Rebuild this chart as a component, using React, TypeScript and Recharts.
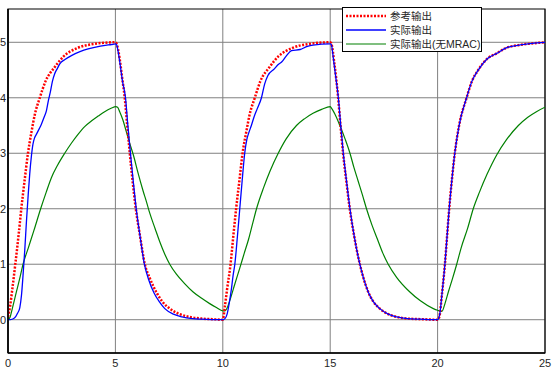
import { LineChart, Line, XAxis, YAxis, CartesianGrid, ReferenceArea } from 'recharts';

// time (s) and values
const refT = [0, 0.1, 0.2, 0.34, 0.5, 0.62, 0.77, 0.93, 1.1, 1.25, 1.48, 1.75, 2.17, 2.6, 3.25, 4, 5,
  5.05, 5.2, 5.3, 5.435, 5.55, 5.67, 5.8, 5.95, 6.15, 6.37, 6.6, 6.9, 7.2, 7.53, 8, 8.46, 9, 9.5, 10,
  10.1, 10.2, 10.36, 10.5, 10.62, 10.77, 10.92, 11.1, 11.25, 11.49, 11.75, 12.17, 12.6, 13.25, 14, 15,
  15.05, 15.2, 15.37, 15.48, 15.6, 15.75, 15.91, 16.12, 16.38, 16.55, 16.77, 17, 17.31, 17.7, 18.09, 18.6, 19.2, 20,
  20.08, 20.2, 20.34, 20.44, 20.54, 20.66, 20.8, 21, 21.35, 21.6, 21.89, 22.3, 22.75, 23.2, 23.8, 24.4, 25];
const refY = [0.05, 0.25, 0.55, 1.0, 1.55, 2.0, 2.5, 3.0, 3.4, 3.7, 4.0, 4.3, 4.55, 4.75, 4.9, 4.97, 5.0,
  4.98, 4.7, 4.4, 4.0, 3.5, 3.0, 2.5, 2.0, 1.5, 1.0, 0.75, 0.5, 0.32, 0.2, 0.1, 0.05, 0.02, 0.01, 0.0,
  0.25, 0.55, 1.0, 1.55, 2.0, 2.5, 3.0, 3.4, 3.7, 4.0, 4.3, 4.55, 4.75, 4.9, 4.97, 5.0,
  4.98, 4.6, 4.0, 3.5, 3.0, 2.5, 2.0, 1.5, 1.0, 0.75, 0.5, 0.33, 0.2, 0.1, 0.05, 0.02, 0.01, 0.0,
  0.05, 0.45, 1.0, 1.5, 2.0, 2.5, 3.0, 3.5, 4.0, 4.3, 4.5, 4.7, 4.8, 4.9, 4.95, 4.98, 5.0];

const actT = [0, 0.1, 0.3, 0.45, 0.55, 0.63, 0.7, 0.78, 0.86, 0.94, 1.01, 1.09, 1.16, 1.24, 1.32, 1.45, 1.55, 1.68, 1.79, 1.88, 1.97, 2.07, 2.17, 2.3, 2.41, 2.65, 2.95, 3.35, 3.73, 4.3, 4.82, 5,
  5.05, 5.12, 5.22, 5.33, 5.47, 5.58, 5.7, 5.83, 5.97, 6.15, 6.35, 6.55, 6.8, 7.05, 7.3, 7.7, 8.1, 8.6, 9, 10,
  10.1, 10.2, 10.3, 10.4, 10.48, 10.56, 10.68, 10.79, 10.9, 11.02, 11.12, 11.22, 11.33, 11.45, 11.6, 11.8, 11.95, 12.1, 12.4, 12.58, 12.75, 12.95, 13.2, 13.6, 13.9, 14.2, 15,
  15.05, 15.15, 15.25, 15.38, 15.49, 15.61, 15.76, 15.92, 16.12, 16.38, 16.55, 16.77, 17, 17.31, 17.7, 18.1, 18.6, 19.2, 20,
  20.1, 20.2, 20.34, 20.44, 20.54, 20.66, 20.8, 21, 21.35, 21.6, 21.89, 22.3, 22.75, 23.2, 23.8, 24.4, 25];
const actY = [0, 0, 0.03, 0.12, 0.22, 0.45, 0.8, 1.25, 1.78, 2.25, 2.62, 2.95, 3.16, 3.28, 3.34, 3.44, 3.52, 3.65, 3.77, 3.95, 4.1, 4.3, 4.43, 4.53, 4.61, 4.69, 4.76, 4.83, 4.88, 4.93, 4.96, 4.97,
  4.96, 4.85, 4.6, 4.3, 4.0, 3.5, 3.0, 2.5, 2.0, 1.5, 1.0, 0.72, 0.48, 0.32, 0.2, 0.1, 0.05, 0.02, 0.01, 0.0,
  0.02, 0.1, 0.3, 0.55, 0.8, 1.0, 1.5, 2.0, 2.5, 3.0, 3.25, 3.38, 3.5, 3.65, 3.8, 4.0, 4.25, 4.4, 4.52, 4.6, 4.65, 4.75, 4.85, 4.87, 4.92, 4.95, 4.97,
  4.96, 4.7, 4.4, 4.0, 3.5, 3.0, 2.5, 2.0, 1.5, 1.0, 0.75, 0.5, 0.33, 0.2, 0.1, 0.05, 0.02, 0.01, 0.0,
  0.1, 0.45, 1.0, 1.5, 2.0, 2.5, 3.0, 3.5, 4.0, 4.3, 4.5, 4.7, 4.8, 4.9, 4.95, 4.98, 5.0];

const noMracT = [0, 0.1, 0.2, 0.39, 0.55, 0.7, 0.95, 1.2, 1.52, 1.78, 2.02, 2.3, 2.64, 2.95, 3.26, 3.57, 3.88, 4.2, 4.5, 4.8, 5.02,
  5.1, 5.2, 5.35, 5.5, 5.65, 5.85, 6.05, 6.29, 6.45, 6.6, 6.85, 7.07, 7.3, 7.53, 7.84, 8.2, 8.62, 9, 9.39, 9.7, 10,
  10.1, 10.2, 10.37, 10.55, 10.79, 11, 11.2, 11.4, 11.57, 11.9, 12.2, 12.58, 12.95, 13.43, 13.8, 14.2, 14.6, 15,
  15.05, 15.2, 15.45, 15.7, 15.92, 16.1, 16.3, 16.5, 16.69, 16.95, 17.2, 17.45, 17.7, 18.1, 18.71, 19.2, 19.8, 20,
  20.2, 20.35, 20.5, 20.7, 20.89, 21.1, 21.4, 21.66, 21.95, 22.3, 22.75, 23.2, 23.76, 24.2, 24.6, 25];
const noMracY = [0, 0.05, 0.2, 0.5, 0.75, 1.0, 1.3, 1.6, 2.0, 2.3, 2.56, 2.78, 3.0, 3.18, 3.34, 3.48, 3.58, 3.67, 3.75, 3.81, 3.84,
  3.83, 3.75, 3.6, 3.4, 3.2, 2.95, 2.65, 2.32, 2.12, 1.92, 1.64, 1.4, 1.18, 1.0, 0.82, 0.66, 0.5, 0.39, 0.29, 0.22, 0.16,
  0.16, 0.21, 0.4, 0.63, 0.93, 1.2, 1.45, 1.75, 2.0, 2.38, 2.68, 3.0, 3.26, 3.5, 3.62, 3.72, 3.79, 3.84,
  3.82, 3.72, 3.5, 3.25, 3.0, 2.75, 2.5, 2.25, 2.0, 1.7, 1.45, 1.2, 1.0, 0.76, 0.5, 0.34, 0.2, 0.17,
  0.15, 0.3, 0.5, 0.75, 1.0, 1.3, 1.65, 2.0, 2.3, 2.62, 2.97, 3.24, 3.5, 3.65, 3.75, 3.83];

const xTicks = [0, 5, 10, 15, 20, 25];
const yTicks = [0, 1, 2, 3, 4, 5];
const labels = ['参考输出', '实际输出', '实际输出(无MRAC)'];

const toPoints = (t: number[], y: number[]) => t.map((v, i) => ({ t: v, y: y[i] }));

const refData = toPoints(refT, refY);
const actData = toPoints(actT, actY);
const noMracData = toPoints(noMracT, noMracY);

const FONT = '"Liberation Sans", Arial, "Noto Sans CJK SC", sans-serif';
const tickStyle = { fontSize: 11, fill: '#262626', fontFamily: FONT };

const legendItems = [
  { label: labels[0], color: '#ff0000', width: 2.5, dash: '2 1.5' },
  { label: labels[1], color: '#0000ff', width: 1.3, dash: undefined },
  { label: labels[2], color: '#008000', width: 1.2, dash: undefined },
];

function ChartLegend() {
  return (
    <div
      style={{
        position: 'absolute', left: 342, top: 7, width: 140, height: 45,
        background: '#fff', border: '1px solid #000', boxSizing: 'border-box',
        padding: '1px 0 0 2px',
      }}
    >
      {legendItems.map(item => (
        <div key={item.label} style={{ display: 'flex', alignItems: 'center', height: 14.2 }}>
          <svg width={42} height={8} style={{ flex: 'none' }}>
            <line x1={1} y1={4} x2={41} y2={4} stroke={item.color} strokeWidth={item.width} strokeDasharray={item.dash} />
          </svg>
          <span style={{ marginLeft: 3, fontSize: 10.5, color: '#262626', fontFamily: FONT, whiteSpace: 'nowrap', lineHeight: 1 }}>
            {item.label}
          </span>
        </div>
      ))}
    </div>
  );
}

export default function App() {
  return (
    <div style={{ position: 'absolute', left: 0, top: 0, width: 555, height: 376, background: '#fff' }}>
      <LineChart width={555} height={376} margin={{ top: 9, right: 10, left: 0, bottom: 0 }}>
        <CartesianGrid stroke="#808080" strokeWidth={1} horizontalValues={yTicks} verticalValues={xTicks} />
        <XAxis
          type="number" dataKey="t" domain={[0, 25]} ticks={xTicks} allowDataOverflow
          height={23} tickSize={0} tickMargin={6} tick={tickStyle}
          axisLine={{ stroke: '#000', strokeWidth: 1.5 }}
        />
        <YAxis
          type="number" dataKey="y" domain={[-0.6, 5.6]} ticks={yTicks} allowDataOverflow
          width={8} tickSize={0} tickMargin={2} tick={tickStyle}
          axisLine={{ stroke: '#000', strokeWidth: 1.5 }}
        />
        <ReferenceArea x1={0} x2={25} y1={-0.6} y2={5.6} fill="none" stroke="#000" strokeWidth={1.2} ifOverflow="visible" />
        <Line type="monotone" data={noMracData} dataKey="y" stroke="#008000" strokeWidth={1.2} dot={false} isAnimationActive={false} />
        <Line type="monotone" data={refData} dataKey="y" stroke="#ff0000" strokeWidth={2.5} strokeDasharray="2 1.5" dot={false} isAnimationActive={false} />
        <Line type="monotone" data={actData} dataKey="y" stroke="#0000ff" strokeWidth={1.3} dot={false} isAnimationActive={false} />
      </LineChart>
      <ChartLegend />
    </div>
  );
}
